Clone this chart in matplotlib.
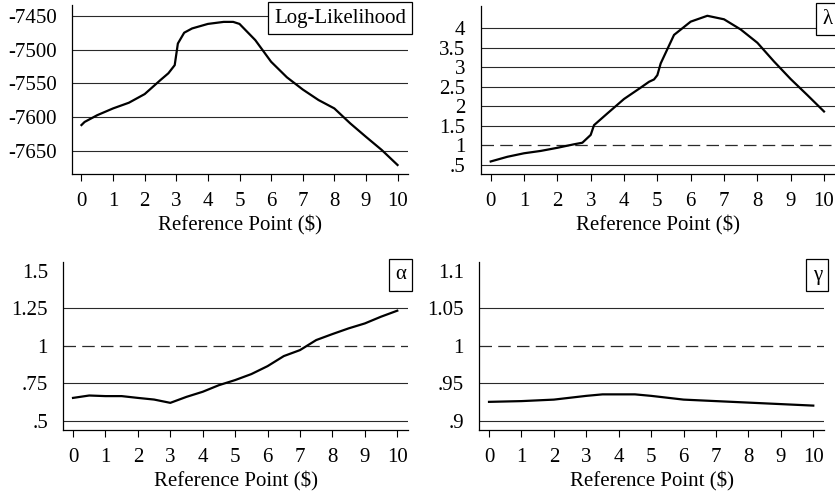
"""
plot.py - reference-point sensitivity of the estimated parameters.

Four small panels (log-likelihood, lambda, alpha, gamma) against the
reference point in dollars. Saves out.png.
"""

import matplotlib
matplotlib.use("Agg")
import matplotlib.pyplot as plt

# ---------------------------------------------------------------------------
# Data
# ---------------------------------------------------------------------------

ll_x = [0, 0.1, 0.5, 1, 1.5, 2, 2.5, 2.75, 2.95, 3.05, 3.25, 3.5, 4, 4.5,
        4.8, 5, 5.5, 6, 6.5, 7, 7.5, 8, 8.5, 9, 9.5, 10]
ll_y = [-7611.6, -7607, -7597, -7587, -7578.6, -7565.8, -7545, -7535, -7523,
        -7491, -7475, -7468.7, -7462, -7459, -7459, -7462, -7486, -7518,
        -7541, -7559, -7574.6, -7587, -7609, -7629, -7648.5, -7670.7]

lam_x = [0, 0.5, 1, 1.5, 2, 2.5, 2.75, 3, 3.1, 3.5, 4, 4.5, 4.75, 4.9, 5,
         5.1, 5.5, 6, 6.5, 7, 7.5, 8, 8.5, 9, 9.5, 10]
lam_y = [0.59, 0.71, 0.80, 0.86, 0.94, 1.03, 1.07, 1.27, 1.52, 1.82, 2.19,
         2.48, 2.63, 2.69, 2.80, 3.1, 3.83, 4.17, 4.32, 4.23, 3.97, 3.63,
         3.15, 2.70, 2.29, 1.87]

alpha_x = [0, 0.5, 1, 1.5, 2, 2.5, 3, 3.5, 4, 4.5, 5, 5.5, 6, 6.5, 7, 7.5,
           8, 8.5, 9, 9.5, 10]
alpha_y = [0.651, 0.667, 0.663, 0.663, 0.651, 0.640, 0.618, 0.658, 0.692,
           0.736, 0.770, 0.810, 0.863, 0.930, 0.970, 1.037, 1.077, 1.115,
           1.148, 1.193, 1.233]

gamma_x = [0, 1, 2, 3, 3.5, 4, 4.5, 5, 6, 7, 8, 9, 10]
gamma_y = [0.925, 0.926, 0.928, 0.933, 0.935, 0.935, 0.935, 0.933, 0.928,
           0.926, 0.924, 0.922, 0.920]

x_ticks = list(range(0, 11))

ll_ticks = [-7450, -7500, -7550, -7600, -7650]
ll_labels = ["-7450", "-7500", "-7550", "-7600", "-7650"]
lam_ticks = [4, 3.5, 3, 2.5, 2, 1.5, 1, 0.5]
lam_labels = ["4", "3.5", "3", "2.5", "2", "1.5", "1", ".5"]
alpha_ticks = [1.5, 1.25, 1, 0.75, 0.5]
alpha_labels = ["1.5", "1.25", "1", ".75", ".5"]
gamma_ticks = [1.1, 1.05, 1, 0.95, 0.9]
gamma_labels = ["1.1", "1.05", "1", ".95", ".9"]

# ---------------------------------------------------------------------------
# Styling
# ---------------------------------------------------------------------------

plt.rcParams["font.family"] = ["Liberation Serif", "DejaVu Serif"]
plt.rcParams["font.size"] = 15

GRID_COLOR = "#2a2a2a"


def panel(fig, rect, x, y, ylim, ticks, labels, grid_at, dashed_at, name):
    ax = fig.add_axes(rect)
    ax.plot(x, y, color="black", lw=1.6, zorder=3)
    ax.set_xlim(-0.3, 10.33)
    ax.set_ylim(*ylim)

    for v in grid_at:
        ax.axhline(v, color=GRID_COLOR, lw=0.8, zorder=1)
    if dashed_at is not None:
        ax.axhline(dashed_at, color=GRID_COLOR, lw=0.9, ls=(0, (10, 5)), zorder=1)

    ax.set_xticks(x_ticks)
    ax.set_yticks(ticks)
    ax.set_yticklabels(labels)
    ax.tick_params(axis="x", direction="out", length=5, width=0.8, pad=8)
    ax.tick_params(axis="y", length=0, pad=11)
    ax.set_xlabel("Reference Point ($)", labelpad=3)

    for side in ("top", "right"):
        ax.spines[side].set_visible(False)
    for side in ("left", "bottom"):
        ax.spines[side].set_linewidth(0.9)

    ax.text(0.994, 0.978, name, transform=ax.transAxes, ha="right", va="top",
            fontsize=15, zorder=4,
            bbox=dict(boxstyle="square,pad=0.3", fc="white", ec="black", lw=0.9))
    return ax


fig = plt.figure(figsize=(8.35, 4.94), dpi=100)

panel(fig, [0.0862, 0.6478, 0.4024, 0.3421], ll_x, ll_y, (-7684, -7434),
      ll_ticks, ll_labels, ll_ticks, None, "Log-Likelihood")

panel(fig, [0.5757, 0.6472, 0.4243, 0.3407], lam_x, lam_y, (0.262, 4.571),
      lam_ticks, lam_labels, [t for t in lam_ticks if t != 1], 1, "λ")

panel(fig, [0.0758, 0.1296, 0.4128, 0.3407], alpha_x, alpha_y, (0.437, 1.56),
      alpha_ticks, alpha_labels, [1.25, 0.75, 0.5], 1, "α")

panel(fig, [0.5740, 0.1290, 0.4128, 0.3407], gamma_x, gamma_y, (0.8871, 1.1116),
      gamma_ticks, gamma_labels, [1.05, 0.95, 0.9], 1, "γ")

fig.savefig("out.png", dpi=100)
print("Saved -> out.png")
